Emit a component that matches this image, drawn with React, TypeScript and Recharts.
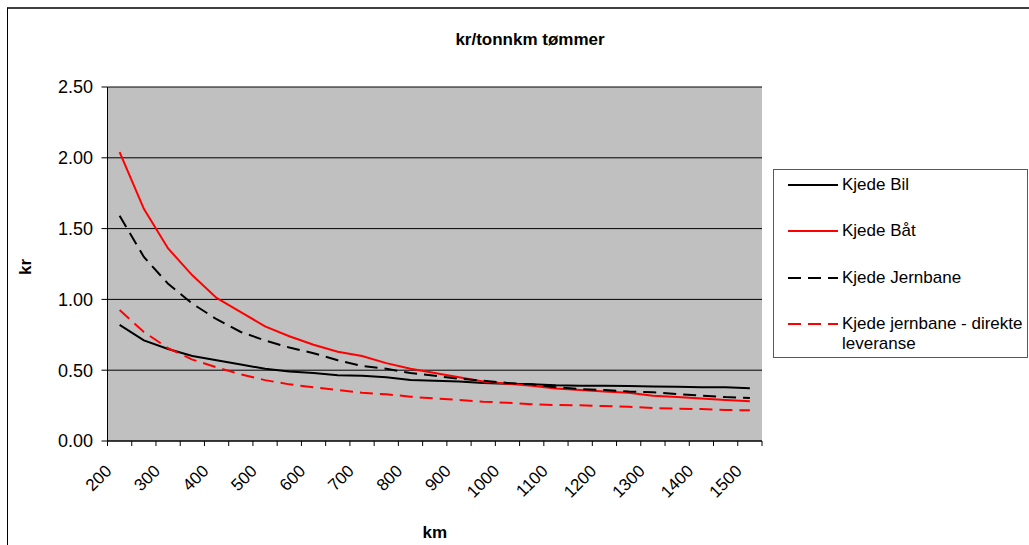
import React from 'react';
import { LineChart, Line, XAxis, YAxis, CartesianGrid, Legend, Customized, Label } from 'recharts';

const km = [200, 250, 300, 350, 400, 450, 500, 550, 600, 650, 700, 750, 800, 850, 900, 950, 1000, 1050, 1100, 1150, 1200, 1250, 1300, 1350, 1400, 1450, 1500];
const kjedeBil = [0.82, 0.71, 0.65, 0.60, 0.57, 0.54, 0.51, 0.49, 0.48, 0.465, 0.46, 0.45, 0.43, 0.425, 0.42, 0.41, 0.405, 0.40, 0.393, 0.39, 0.39, 0.388, 0.385, 0.384, 0.379, 0.38, 0.372];
const kjedeBat = [2.04, 1.64, 1.36, 1.17, 1.01, 0.91, 0.81, 0.74, 0.68, 0.63, 0.60, 0.55, 0.51, 0.48, 0.45, 0.42, 0.405, 0.39, 0.37, 0.36, 0.35, 0.34, 0.32, 0.31, 0.30, 0.29, 0.28];
const kjedeJernbane = [1.59, 1.30, 1.11, 0.97, 0.86, 0.77, 0.71, 0.66, 0.62, 0.57, 0.53, 0.51, 0.48, 0.46, 0.44, 0.425, 0.41, 0.40, 0.38, 0.367, 0.36, 0.35, 0.344, 0.332, 0.32, 0.31, 0.304];
const kjedeDirekte = [0.925, 0.77, 0.655, 0.575, 0.52, 0.47, 0.43, 0.40, 0.38, 0.36, 0.34, 0.33, 0.313, 0.30, 0.29, 0.278, 0.27, 0.26, 0.254, 0.252, 0.247, 0.242, 0.233, 0.228, 0.226, 0.219, 0.217];
const yTicks = [0, 0.5, 1, 1.5, 2, 2.5];

const titleText = 'kr/tonnkm tømmer';
const xTitle = 'km';
const yTitle = 'kr';

const seriesNames = ['Kjede Bil', 'Kjede Båt', 'Kjede Jernbane', 'Kjede jernbane - direkte leveranse'];
const seriesKeys = ['bil', 'bat', 'jernbane', 'direkte'];
const seriesValues = [kjedeBil, kjedeBat, kjedeJernbane, kjedeDirekte];
const seriesColors = ['#000000', '#FF0000', '#000000', '#FF0000'];
const seriesDash = [undefined, undefined, '13 7', '13 7'];

const data = km.map((k, i) => {
  const row: Record<string, number> = { km: k };
  seriesKeys.forEach((key, s) => {
    row[key] = seriesValues[s][i];
  });
  return row;
});

const FONT = '"Liberation Sans", Arial, sans-serif';
const CHART_W = 1021;
const CHART_H = 536;
const Y_AXIS_W = 99.5;
const RIGHT_MARGIN = 267;
const TOP_MARGIN = 78;
const X_AXIS_H = 104;
const STEP = (CHART_W - Y_AXIS_W - RIGHT_MARGIN) / km.length;

const XTick = (props: any) => {
  const { x, y, payload, index } = props;
  const half = STEP / 2;
  const tx = x - 7;
  const ty = y + 31;
  return (
    <g>
      <line x1={x - half} x2={x - half} y1={y} y2={y + 5} stroke="#000" strokeWidth={1} />
      {index === km.length - 1 && (
        <line x1={x + half} x2={x + half} y1={y} y2={y + 5} stroke="#000" strokeWidth={1} />
      )}
      {index % 2 === 0 && (
        <text
          x={tx}
          y={ty}
          textAnchor="end"
          transform={`rotate(-45 ${tx} ${ty})`}
          fontSize={17}
          fill="#000"
          fontFamily={FONT}
        >
          {payload.value}
        </text>
      )}
    </g>
  );
};

const LegendBox = () => (
  <div
    style={{
      position: 'relative',
      boxSizing: 'border-box',
      width: 255,
      height: 189,
      border: '1px solid #595959',
      background: '#fff',
      fontFamily: FONT,
      fontSize: 17,
      color: '#000',
    }}
  >
    {seriesNames.map((name, i) => (
      <div
        key={name}
        style={{ position: 'absolute', left: 14, top: 15 + i * 46.3 - 10, display: 'flex', alignItems: 'flex-start' }}
      >
        <svg width={50} height={20} style={{ display: 'block' }}>
          <line x1={0} x2={50} y1={10} y2={10} stroke={seriesColors[i]} strokeWidth={2} strokeDasharray={seriesDash[i]} />
        </svg>
        <div style={{ marginLeft: 4, width: 184, lineHeight: '20px' }}>{name}</div>
      </div>
    ))}
  </div>
);

export default function App() {
  return (
    <div
      style={{
        position: 'absolute',
        left: 7,
        top: 7,
        width: 1022,
        height: 538,
        boxSizing: 'border-box',
        borderTop: '2px solid #404040',
        borderLeft: '1px solid #000',
        background: '#fff',
        overflow: 'hidden',
        fontFamily: FONT,
      }}
    >
      <LineChart
        width={CHART_W}
        height={CHART_H}
        data={data}
        margin={{ top: TOP_MARGIN, right: RIGHT_MARGIN, bottom: 0, left: 0 }}
      >
        <CartesianGrid vertical={false} stroke="#000" fill="#C0C0C0" fillOpacity={1} />
        <XAxis
          dataKey="km"
          scale="band"
          interval={0}
          height={X_AXIS_H}
          tick={<XTick />}
          tickLine={false}
          tickSize={0}
          tickMargin={0}
          axisLine={{ stroke: '#000' }}
        >
          <Label
            content={(p: any) => {
              const vb = p.viewBox || {};
              return (
                <text
                  x={vb.x + vb.width / 2}
                  y={vb.y + 91}
                  textAnchor="middle"
                  dominantBaseline="central"
                  fontSize={17}
                  fontWeight="bold"
                  fill="#000"
                  fontFamily={FONT}
                >
                  {xTitle}
                </text>
              );
            }}
          />
        </XAxis>
        <YAxis
          width={Y_AXIS_W}
          domain={[0, 2.5]}
          ticks={yTicks}
          interval={0}
          tickFormatter={(v: number) => v.toFixed(2)}
          tick={{ fontSize: 18, fill: '#000', fontFamily: FONT }}
          tickLine={{ stroke: '#000' }}
          tickSize={6}
          tickMargin={8.5}
          axisLine={{ stroke: '#000' }}
        >
          <Label
            content={(p: any) => {
              const vb = p.viewBox || {};
              const cx = vb.x + 17;
              const cy = vb.y + vb.height / 2 + 3;
              return (
                <text
                  x={cx}
                  y={cy}
                  transform={`rotate(-90 ${cx} ${cy})`}
                  textAnchor="middle"
                  dominantBaseline="central"
                  fontSize={17}
                  fontWeight="bold"
                  fill="#000"
                  fontFamily={FONT}
                >
                  {yTitle}
                </text>
              );
            }}
          />
        </YAxis>
        <YAxis
          yAxisId="right"
          orientation="right"
          width={0}
          domain={[0, 2.5]}
          tick={false}
          tickLine={false}
          axisLine={{ stroke: '#808080' }}
        />
        {seriesKeys.map((key, i) => (
          <Line
            key={key}
            type="linear"
            dataKey={key}
            name={seriesNames[i]}
            stroke={seriesColors[i]}
            strokeWidth={2}
            strokeDasharray={seriesDash[i]}
            dot={false}
            activeDot={false}
            isAnimationActive={false}
          />
        ))}
        <Legend
          layout="horizontal"
          align="center"
          verticalAlign="middle"
          wrapperStyle={{ left: 765, top: 160, width: 255, height: 189 }}
          content={() => <LegendBox />}
        />
        <Customized
          component={() => (
            <text
              x={522}
              y={30}
              textAnchor="middle"
              dominantBaseline="central"
              fontSize={17}
              fontWeight="bold"
              fill="#000"
              fontFamily={FONT}
            >
              {titleText}
            </text>
          )}
        />
      </LineChart>
    </div>
  );
}
